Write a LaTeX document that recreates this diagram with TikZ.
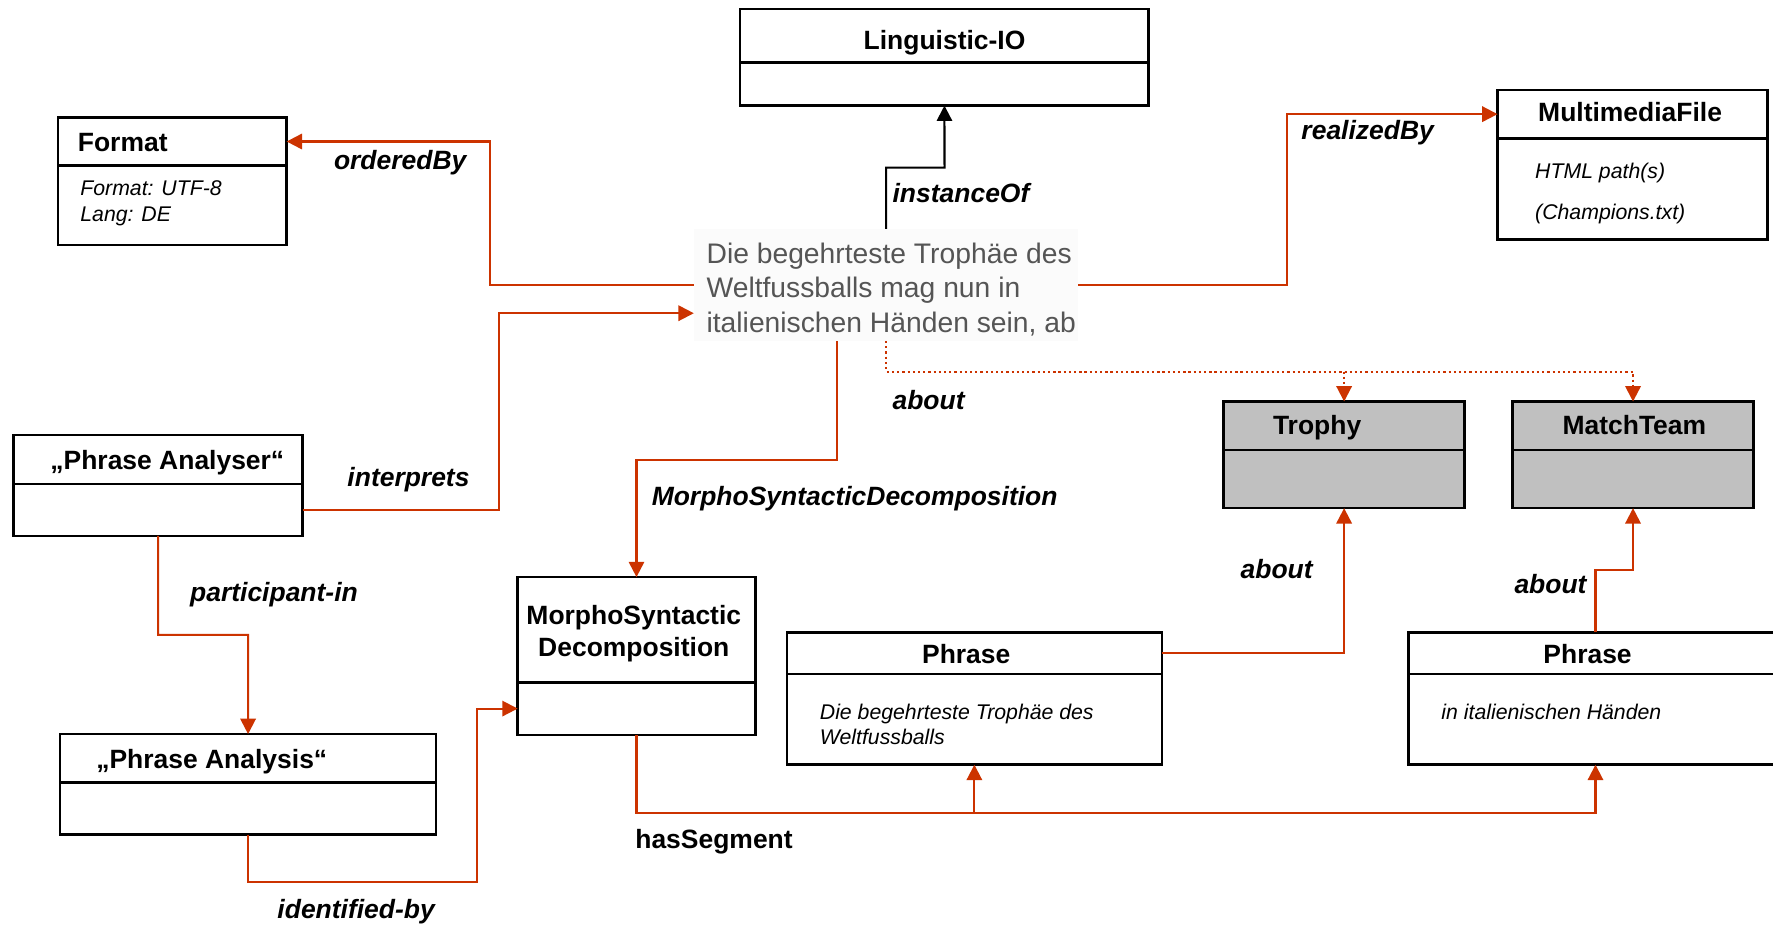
\documentclass[tikz,border=0pt]{standalone}
\usepackage{fontspec}
\setmainfont{Liberation Sans}
\usetikzlibrary{arrows.meta,fit,calc}
\definecolor{arrred}{HTML}{CC3300}
\definecolor{sentgray}{HTML}{555555}
\definecolor{sentbg}{HTML}{FBFBFB}
\definecolor{clsgray}{HTML}{C0C0C0}
\begin{document}
\begin{tikzpicture}[x=0.5pt,y=-0.5pt,
 cls/.style={draw=black,line width=1.1pt,inner sep=0pt,outer sep=0pt},
 gcls/.style={cls,fill=clsgray},
 ttl/.style={inner sep=0pt,font=\fontsize{11.7}{14}\selectfont\bfseries},
 lbl/.style={inner sep=0pt,anchor=base west,font=\fontsize{11.7}{14}\selectfont\bfseries\itshape},
 attr/.style={inner sep=0pt,anchor=base west,font=\fontsize{9.4}{11}\selectfont\itshape},
 stxt/.style={inner sep=0pt,anchor=base west,text=sentgray,font=\fontsize{12.5}{15}\selectfont},
 conn/.style={draw=arrred,line width=0.9pt,-{Triangle[length=6.8pt,width=6.8pt]}},
 dotconn/.style={conn,dash pattern=on 1pt off 1.3pt},
 blkconn/.style={draw=black,line width=0.9pt,-{Triangle[length=6.8pt,width=6.8pt]}}]
\clip (0,0) rectangle (1568,818);
\fill[white] (0,0) rectangle (1568,818);

% ---------- classes ----------
\node[cls,fit={(654.6,8) (1015.9,55.4)}] (li) {};
\node[cls,fit={(654.6,55.4) (1015.9,93.4)}] (lib) {};
\node[ttl,anchor=base] (liT) at (835.3,43.6) {Linguistic-IO};

\node[cls,fit={(51.5,104.1) (253.5,146.2)}] (fmt) {};
\node[cls,fit={(51.5,146.2) (253.5,216.6)}] (fmtb) {};
\node[ttl,anchor=base west] (fmtT) at (68.5,134.1) {Format};
\node[attr] (fmtA1) at (70.7,172.7) {Format: UTF-8};
\node[attr] (fmtA2) at (70.7,195.7) {Lang: DE};

\node[cls,fit={(1324.4,79.6) (1563.1,122.3)}] (mm) {};
\node[cls,fit={(1324.4,122.3) (1563.1,211.6)}] (mmb) {};
\node[ttl,anchor=base] (mmT) at (1441.6,107.6) {MultimediaFile};
\node[attr] (mmA1) at (1357.3,157.7) {HTML path(s)};
\node[attr] (mmA2) at (1357.3,194.5) {(Champions.txt)};

\node[cls,fit={(12,384.6) (267.7,427.9)}] (pa) {};
\node[cls,fit={(12,427.9) (267.7,473.9)}] (pab) {};
\node[ttl,anchor=base west] (paT) at (44.2,415.6) {„Phrase Analyser“};

\node[gcls,fit={(1082.1,355.1) (1295.3,397.9)}] (tr) {};
\node[gcls,fit={(1082.1,397.9) (1295.3,449.4)}] (trb) {};
\node[ttl,anchor=base west] (trT) at (1125.4,384.6) {Trophy};

\node[gcls,fit={(1337.6,355.1) (1550.8,397.9)}] (mt) {};
\node[gcls,fit={(1337.6,397.9) (1550.8,449.4)}] (mtb) {};
\node[ttl,anchor=base west] (mtT) at (1381.5,384.6) {MatchTeam};

\node[cls,fit={(457.8,510.4) (668,603.5)}] (msd) {};
\node[cls,fit={(457.8,603.5) (668,649.8)}] (msdb) {};
\node[ttl,anchor=base] (msdT1) at (560.5,552.5) {MorphoSyntactic};
\node[ttl,anchor=base] (msdT2) at (560.5,580.5) {Decomposition};

\node[cls,fit={(53.2,649.2) (385.6,692.2)}] (pan) {};
\node[cls,fit={(53.2,692.2) (385.6,738.2)}] (panb) {};
\node[ttl,anchor=base west] (panT) at (84.8,679.3) {„Phrase Analysis“};

\node[cls,fit={(695.9,559.3) (1027.5,595.9)}] (ph1) {};
\node[cls,fit={(695.9,595.9) (1027.5,676.3)}] (ph1b) {};
\node[ttl,anchor=base] (ph1T) at (854.5,587) {Phrase};
\node[attr] (ph1A1) at (724.7,636) {Die begehrteste Trophäe des};
\node[attr] (ph1A2) at (724.7,658.6) {Weltfussballs};

\node[cls,fit={(1245.6,559.3) (1576.4,595.9)}] (ph2) {};
\node[cls,fit={(1245.6,595.9) (1576.4,676.3)}] (ph2b) {};
\node[ttl,anchor=base] (ph2T) at (1404,587) {Phrase};
\node[attr] (ph2A1) at (1274.4,636) {in italienischen Händen};

% ---------- sentence ----------
\node[fill=sentbg,inner sep=0pt,fit={(614,202.8) (953.3,301.2)}] (sent) {};
\node[stxt] (s1) at (624.5,233.4) {Die begehrteste Trophäe des};
\node[stxt] (s2) at (624.5,263) {Weltfussballs mag nun in};
\node[stxt] (s3) at (624.5,293.8) {italienischen Händen sein, ab};

% ---------- bend coordinates ----------
\coordinate (ioc) at (835.3,148.2);
\coordinate (obc) at (433.5,125.15);
\coordinate (ipc) at (441,300);
\coordinate (rbc) at (1138.6,200);
\coordinate (msc) at (562.9,407);
\coordinate (dotc) at (1188.7,328.6);
\coordinate (pic) at (139.9,561.4);
\coordinate (idc) at (421.7,780.3);
\coordinate (hsc) at (861.7,719);
\coordinate (abc) at (1411,504.5);

% ---------- connectors ----------
\draw[blkconn] (sent.north) |- (ioc) -- (lib.south);
\draw[conn] (sent.west) -| (obc) -- (fmt.east);
\draw[conn] (pab.east) -| (ipc) |- ($(sent.west)+(0,25)$);
\draw[conn] (sent.east) -| (rbc) |- (mm.west);
\draw[conn] ($(sent.south)+(-43.5,0)$) |- (msc) -- (msd.north);
\draw[dotconn] (sent.south) |- (dotc) -| (mt.north);
\draw[dotconn] (dotc) -- (tr.north);
\draw[conn] (pab.south) -- (pic) -| (pan.north);
\draw[conn] (panb.south) |- (idc) |- (msdb.west);
\draw[conn] (msdb.south) |- (hsc) -- (ph1b.south);
\draw[conn] (hsc) -| (ph2b.south);
\draw[conn] (ph1.east) -| (trb.south);
\draw[conn] (ph2.north) |- (abc) -| (mtb.south);

% ---------- labels ----------
\node[lbl] (lInst) at (789,179.2) {instanceOf};
\node[lbl] (lOrd) at (295,149.7) {orderedBy};
\node[lbl] (lReal) at (1150.6,123.8) {realizedBy};
\node[lbl] (lAbout0) at (789,362) {about};
\node[lbl] (lInt) at (306.9,430.3) {interprets};
\node[lbl] (lMSD) at (576,447.3) {MorphoSyntacticDecomposition};
\node[lbl] (lPart) at (167.8,531.9) {participant-in};
\node[lbl] (lAbout1) at (1096.8,511.3) {about};
\node[lbl] (lAbout2) at (1339,525.1) {about};
\node[inner sep=0pt,anchor=base west,font=\fontsize{11.7}{14}\selectfont\bfseries] (lHas) at (561.5,750) {hasSegment};
\node[lbl] (lId) at (245,811.9) {identified-by};
\end{tikzpicture}
\end{document}
